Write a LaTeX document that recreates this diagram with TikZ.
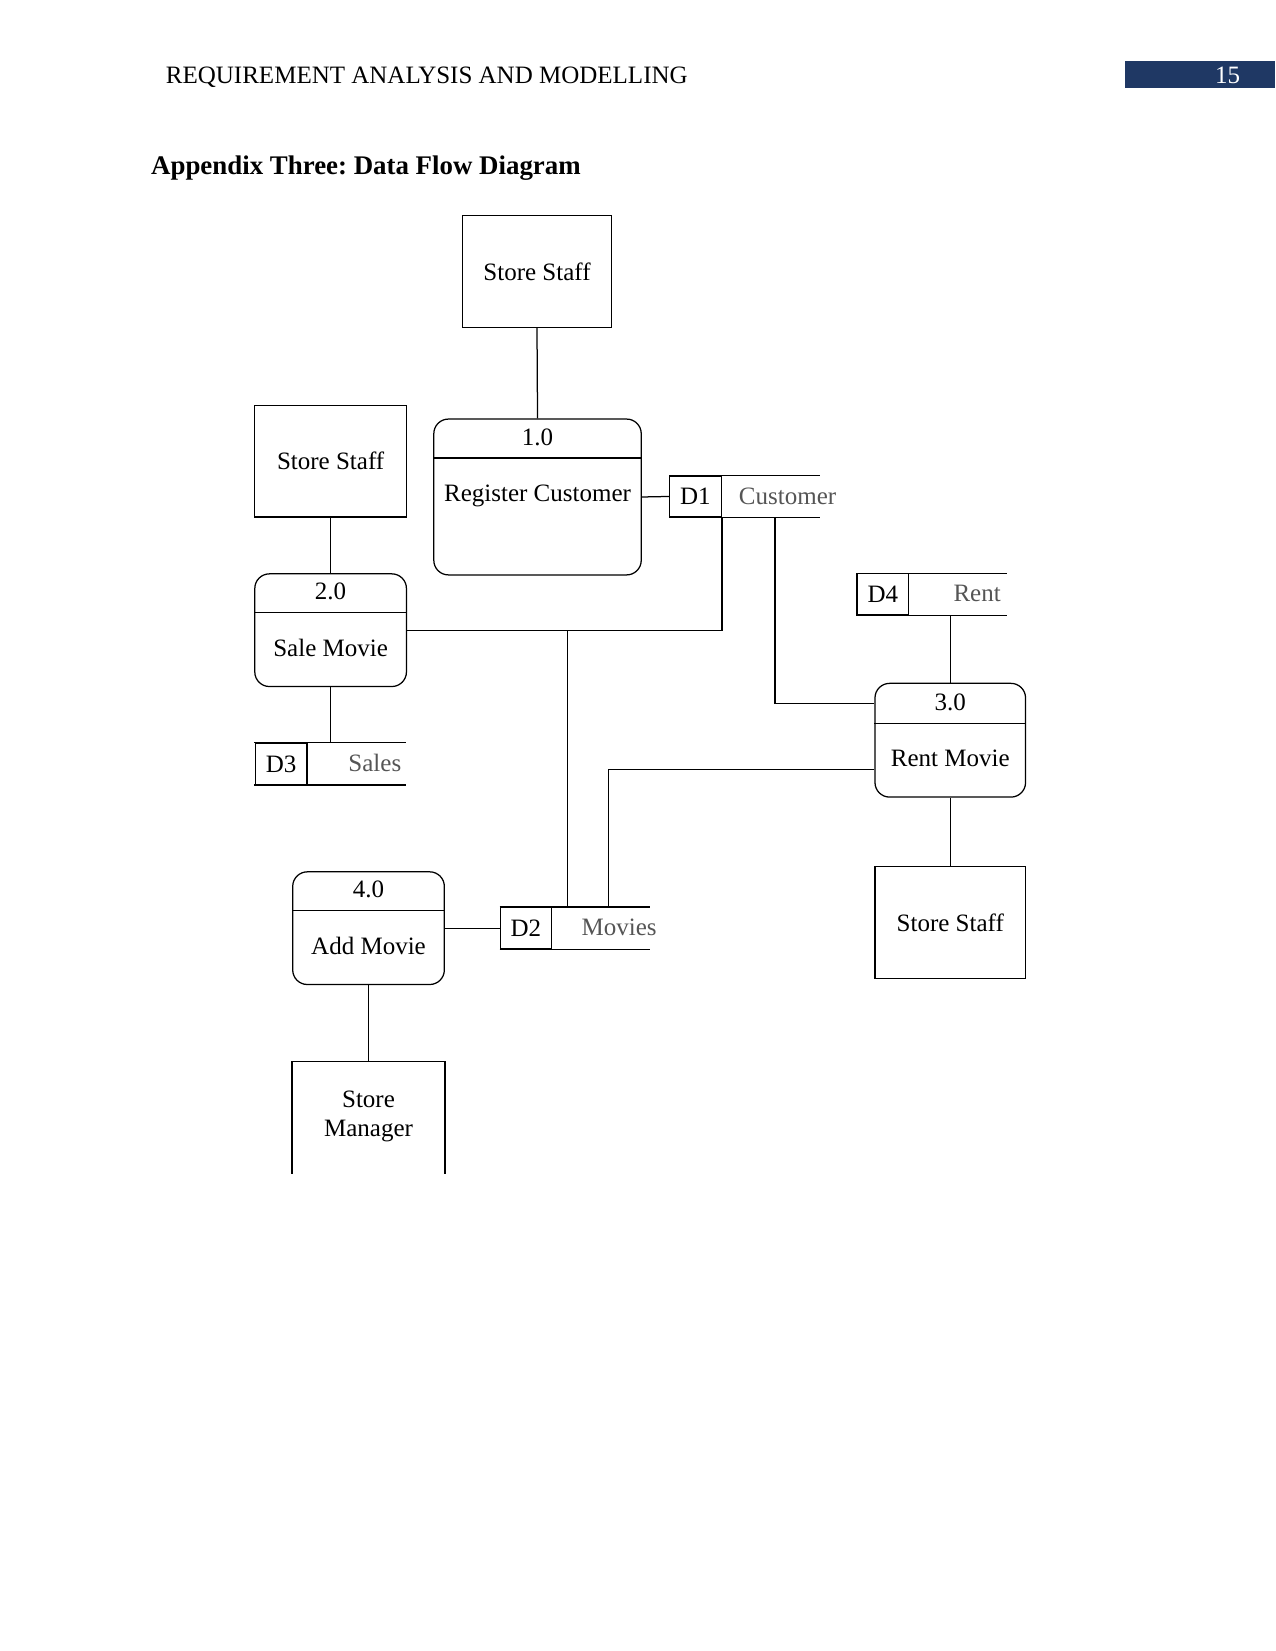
\documentclass[tikz,border=0pt]{standalone}
\usepackage{fontspec}
\setmainfont{Liberation Serif}
\frenchspacing
\newcommand{\pxu}{0.50535pt}
\definecolor{hdrblue}{HTML}{1F3864}
\definecolor{storegray}{HTML}{555555}
\begin{document}
\begin{tikzpicture}[x=0.50535pt,y=-0.50535pt,line width=0.6pt,
  dtext/.style={font=\fontsize{12}{14}\selectfont, inner sep=0pt},
  entity/.style={draw, rectangle, inner sep=0pt, font=\fontsize{12}{14}\selectfont, align=center},
  procbox/.style={draw, rectangle, rounded corners=7pt, inner sep=0pt},
  idbox/.style={draw, rectangle, inner sep=0pt, minimum width=49*\pxu, minimum height=39*\pxu, font=\fontsize{12}{14}\selectfont},
  storearea/.style={rectangle, inner sep=0pt, minimum height=39*\pxu},
  slabel/.style={dtext, text=storegray}
]
\useasboundingbox (0,0) rectangle (1211,1568);
% header
\node[anchor=base west, inner sep=0pt, font=\fontsize{12}{14}\selectfont] (hdr) at (157,79.5) {REQUIREMENT ANALYSIS AND MODELLING};
\node[fill=hdrblue, inner sep=0pt, minimum width=143*\pxu, minimum height=26*\pxu] (pgbox) at (1139.5,71) {};
\node[anchor=base, inner sep=0pt, text=white, font=\fontsize{12}{14}\selectfont] (pgnum) at (1166,79.5) {15};
\node[anchor=base west, inner sep=0pt, font=\fontsize{12.9}{15}\selectfont\bfseries] (title) at (143,166) {Appendix Three: Data Flow Diagram};

% external entities
\node[entity, minimum width=142*\pxu, minimum height=106*\pxu] (ss1) at (510,258) {Store Staff};
\node[entity, minimum width=144*\pxu, minimum height=106*\pxu] (ss2) at (314,438) {Store Staff};
\node[entity, minimum width=143*\pxu, minimum height=106*\pxu] (ss3) at (902.5,876) {Store Staff};
\node[rectangle, inner sep=0pt, minimum width=144*\pxu, minimum height=105*\pxu] (mgr) at (350,1061.5) {};
\draw (mgr.south west) -- (mgr.north west) -- (mgr.north east) -- (mgr.south east);
\node[dtext, align=center] (mgrt) at (350,1060) {Store\\Manager};

% processes
\node[procbox, minimum width=197*\pxu, minimum height=148*\pxu] (p1) at (510.5,472) {};
\draw (p1.west |- 0,435) -- (p1.east |- 0,435);
\node[dtext] (p1n) at (510.5,415) {1.0};
\node[dtext] (p1t) at (510.5,471) {Register Customer};

\node[procbox, minimum width=144*\pxu, minimum height=107*\pxu] (p2) at (314,598.5) {};
\draw (p2.west |- 0,582) -- (p2.east |- 0,582);
\node[dtext] (p2n) at (314,562) {2.0};
\node[dtext] (p2t) at (314,615) {Sale Movie};

\node[procbox, minimum width=143*\pxu, minimum height=108*\pxu] (p3) at (902.5,703) {};
\draw (p3.west |- 0,687) -- (p3.east |- 0,687);
\node[dtext] (p3n) at (902.5,667) {3.0};
\node[dtext] (p3t) at (902.5,720) {Rent Movie};

\node[procbox, minimum width=144*\pxu, minimum height=107*\pxu] (p4) at (350,881.5) {};
\draw (p4.west |- 0,865) -- (p4.east |- 0,865);
\node[dtext] (p4n) at (350,845) {4.0};
\node[dtext] (p4t) at (350,898) {Add Movie};

% data stores
\node[storearea, minimum width=142*\pxu] (d1) at (707,471.5) {};
\draw (d1.north west) -- (d1.north east) (d1.south west) -- (d1.south east);
\node[idbox] (d1id) at (660.5,471.5) {D1};
\node[slabel] (d1l) at (748,471) {Customer};

\node[storearea, minimum width=142*\pxu] (d2) at (546,881.5) {};
\draw (d2.north west) -- (d2.north east) (d2.south west) -- (d2.south east);
\node[idbox] (d2id) at (499.5,881.5) {D2};
\node[slabel] (d2l) at (588,881) {Movies};

\node[storearea, minimum width=143*\pxu] (d3) at (313.5,725.5) {};
\draw (d3.north west) -- (d3.north east) (d3.south west) -- (d3.south east);
\node[idbox] (d3id) at (267,725.5) {D3};
\node[slabel] (d3l) at (356,725) {Sales};

\node[storearea, minimum width=142*\pxu] (d4) at (885,564.5) {};
\draw (d4.north west) -- (d4.north east) (d4.south west) -- (d4.south east);
\node[idbox] (d4id) at (838.5,564.5) {D4};
\node[slabel] (d4l) at (928,564) {Rent};

% connectors
\draw (ss1.south) -- (p1.north);
\draw (p1.east) -- (d1id.west);
\draw (ss2.south) -- (p2.north);
\draw (p2.south) -- (p2.south |- d3.north);
\draw (p2.east) -| (d1id.south east);
\coordinate (j1) at (539,599);
\draw (j1) -- (j1 |- d2.north);
\coordinate (c1) at (736,668);
\draw (c1 |- d1.south) -- (c1) -- (c1 -| p3.west);
\draw (p3.north) -- (p3.north |- d4.south);
\coordinate (c2) at (578,731);
\draw (c2 -| p3.west) -- (c2) -- (c2 |- d2.north);
\draw (p3.south) -- (ss3.north);
\draw (p4.east) -- (d2id.west);
\draw (p4.south) -- (mgr.north);
\end{tikzpicture}
\end{document}
